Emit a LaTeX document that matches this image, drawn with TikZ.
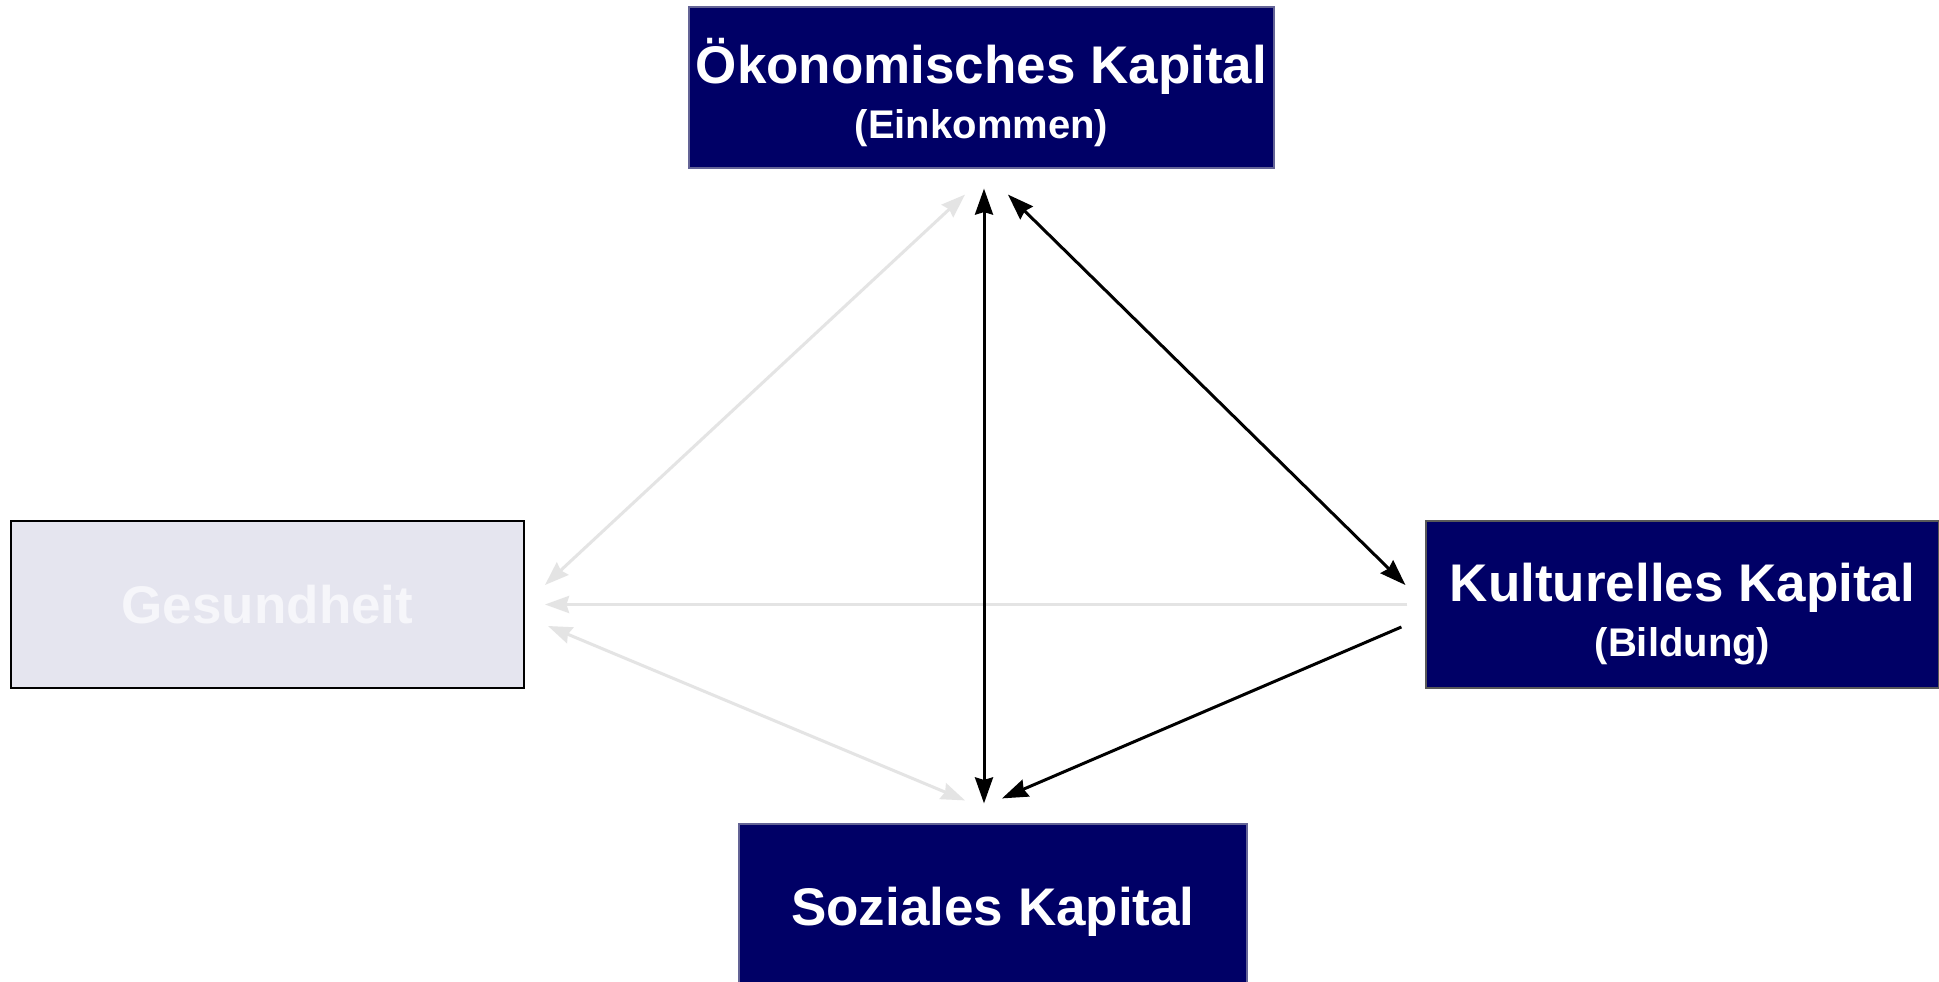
\documentclass[tikz,border=0pt]{standalone}
\usepackage{fontspec}
\setmainfont{Liberation Sans}
\usetikzlibrary{arrows.meta}
\definecolor{navy}{RGB}{0,0,102}
\definecolor{navyedge}{RGB}{100,100,150}
\definecolor{faint}{RGB}{228,228,228}
\definecolor{lavender}{RGB}{229,229,239}
\definecolor{paletext}{RGB}{246,246,250}

\begin{document}
\begin{tikzpicture}[x=1pt,y=-1pt,
  capbox/.style={fill=navy, draw=navyedge, line width=1.2pt, text=white,
    font=\bfseries\fontsize{53}{55}\selectfont, align=center, inner sep=0pt},
  captext/.style={text=white, font=\bfseries\fontsize{53}{55}\selectfont,
    align=center, inner sep=0pt},
  healthbox/.style={fill=lavender, draw=black, line width=2pt, text=paletext,
    font=\bfseries\fontsize{53}{55}\selectfont, align=center, inner sep=0pt},
  bigtip/.tip={Stealth[length=26pt,width=18pt,inset=2.5pt]},
  fainttip/.tip={Stealth[length=24pt,width=17pt,inset=2.5pt]},
  strong/.style={draw=black, line width=3pt},
  weak/.style={draw=faint, line width=3pt},
]
\fill[white] (0,0) rectangle (1939,982);
\useasboundingbox (0,0) rectangle (1939,982);

% the four boxes
\node[capbox, minimum width=585pt, minimum height=161pt] (oek) at (981.5,87.5) {};
\node[captext] (oektext) at ([yshift=-5.5pt]oek.center)
  {Ökonomisches Kapital\\{\fontsize{40}{55}\selectfont (Einkommen)}};
\node[healthbox, minimum width=513pt, minimum height=167pt] (ges) at (267.5,604.5)
  {Gesundheit};
\node[capbox, draw=black!65, minimum width=513pt, minimum height=167pt] (kult) at (1682.5,604.5) {};
\node[captext] (kulttext) at ([yshift=-9.5pt]kult.center)
  {Kulturelles Kapital\\{\fontsize{40}{55}\selectfont (Bildung)}};
\node[capbox, minimum width=508pt, minimum height=164pt, text depth=0pt] (soz) at (993,906)
  {Soziales Kapital};

% faint links towards health (drawn below the strong ones)
\draw[weak, fainttip-fainttip]
  ([xshift=20pt,yshift=19.5pt]ges.east) -- ([xshift=-16.5pt,yshift=-26pt]oek.south);
\draw[weak, -fainttip]
  ([xshift=-18pt]kult.west) -- ([xshift=20pt]ges.east);
\draw[weak, fainttip-fainttip]
  ([xshift=23pt,yshift=-21.5pt]ges.east) -- ([xshift=-28pt,yshift=23pt]soz.north);

% strong links
\draw[strong, bigtip-bigtip]
  ([xshift=2.5pt,yshift=-20pt]oek.south) -- ([xshift=-9pt,yshift=20pt]soz.north);
\draw[strong, bigtip-bigtip]
  ([xshift=26.5pt,yshift=-26pt]oek.south) -- ([xshift=-20pt,yshift=19.5pt]kult.west);
\draw[strong, -bigtip]
  ([xshift=-24pt,yshift=-22.5pt]kult.west) -- ([xshift=9pt,yshift=25pt]soz.north);
\end{tikzpicture}
\end{document}
